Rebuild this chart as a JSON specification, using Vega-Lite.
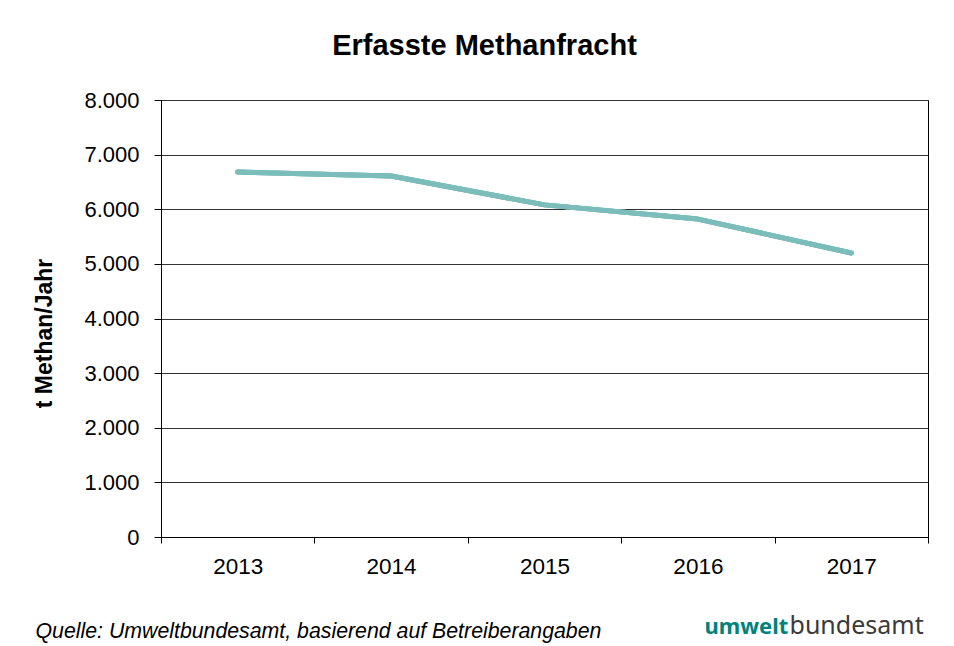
{
  "$schema": "https://vega.github.io/schema/vega-lite/v6.json",
  "width": 767,
  "height": 437,
  "autosize": {"type": "none"},
  "padding": {"left": 161, "top": 100, "right": 26, "bottom": 109},
  "background": "#ffffff",
  "config": {
    "locale": {"number": {"decimal": ",", "thousands": ".", "grouping": [3], "currency": ["", " €"]}},
    "font": "Liberation Sans",
    "view": {"stroke": "#000000", "strokeWidth": 1}
  },
  "title": {
    "text": "Erfasste Methanfracht",
    "font": "Liberation Sans",
    "fontSize": 29,
    "fontWeight": "bold",
    "color": "#000000",
    "anchor": "middle",
    "frame": "group",
    "dx": -60,
    "offset": 28
  },
  "data": {
    "values": [
      {"year": "2013", "methan": 6680},
      {"year": "2014", "methan": 6610},
      {"year": "2015", "methan": 6080},
      {"year": "2016", "methan": 5820},
      {"year": "2017", "methan": 5200}
    ]
  },
  "encoding": {
    "x": {"field": "year", "type": "nominal", "scale": {"paddingInner": 0, "paddingOuter": 0}},
    "y": {
      "field": "methan",
      "type": "quantitative",
      "scale": {"domain": [0, 8000]},
      "axis": {
        "values": [0, 1000, 2000, 3000, 4000, 5000, 6000, 7000, 8000],
        "format": ",d",
        "title": "t Methan/Jahr",
        "titleFont": "Liberation Sans",
        "titleFontSize": 23,
        "titleFontWeight": "bold",
        "titleColor": "#000000",
        "titleAngle": -90,
        "titleAlign": "center",
        "titleBaseline": "alphabetic",
        "titleX": -110,
        "titleY": 233,
        "labelFont": "Liberation Sans",
        "labelFontSize": 22,
        "labelColor": "#000000",
        "labelPadding": 15,
        "tickSize": 7,
        "tickColor": "#000000",
        "domainColor": "#000000",
        "grid": true,
        "gridColor": "#333333",
        "gridWidth": 1
      }
    }
  },
  "layer": [
    {
      "mark": {"type": "line", "color": "#7bbdba", "strokeWidth": 5, "strokeCap": "round", "strokeJoin": "round"},
      "encoding": {
        "x": {
          "field": "year",
          "type": "nominal",
          "axis": {
            "orient": "bottom",
            "labelAngle": 0,
            "labelFont": "Liberation Sans",
            "labelFontSize": 22.5,
            "labelColor": "#000000",
            "labelPadding": 12,
            "tickBand": "extent",
            "tickSize": 6,
            "tickColor": "#000000",
            "domainColor": "#000000",
            "grid": false,
            "title": "Quelle: Umweltbundesamt, basierend auf Betreiberangaben",
            "titleFont": "Liberation Sans",
            "titleFontSize": 21.3,
            "titleFontStyle": "italic",
            "titleFontWeight": "normal",
            "titleColor": "#000000",
            "titleAlign": "left",
            "titleAnchor": "start",
            "titleBaseline": "alphabetic",
            "titleX": -126,
            "titleY": 100
          }
        }
      }
    },
    {
      "mark": {"type": "line", "color": "#7bbdba", "strokeWidth": 5, "strokeCap": "round", "strokeJoin": "round"},
      "encoding": {
        "x": {
          "field": "year",
          "type": "nominal",
          "axis": {
            "orient": "bottom",
            "labels": false,
            "ticks": false,
            "domain": false,
            "grid": false,
            "title": "umwelt",
            "titleFont": "Noto Sans",
            "titleFontSize": 22,
            "titleFontWeight": "bold",
            "titleColor": "#00827c",
            "titleAlign": "left",
            "titleAnchor": "start",
            "titleBaseline": "alphabetic",
            "titleX": 543,
            "titleY": 96
          }
        }
      }
    },
    {
      "mark": {"type": "line", "color": "#7bbdba", "strokeWidth": 5, "strokeCap": "round", "strokeJoin": "round"},
      "encoding": {
        "x": {
          "field": "year",
          "type": "nominal",
          "axis": {
            "orient": "bottom",
            "labels": false,
            "ticks": false,
            "domain": false,
            "grid": false,
            "title": "bundesamt",
            "titleFont": "Noto Sans",
            "titleFontSize": 25,
            "titleFontWeight": "normal",
            "titleColor": "#3a3a3a",
            "titleAlign": "left",
            "titleAnchor": "start",
            "titleBaseline": "alphabetic",
            "titleX": 628,
            "titleY": 96
          }
        }
      }
    }
  ],
  "resolve": {"axis": {"x": "independent"}}
}
